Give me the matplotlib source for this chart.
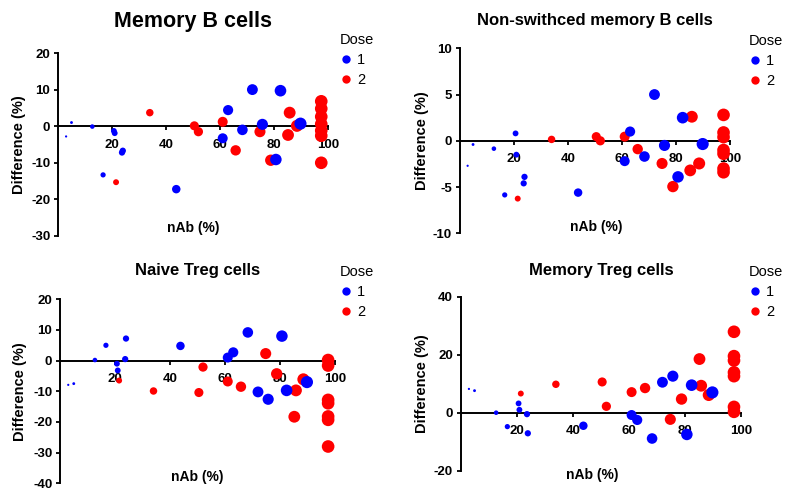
import matplotlib
matplotlib.use("Agg")
import matplotlib.pyplot as plt
from matplotlib.lines import Line2D

plt.rcParams["font.family"] = ["Liberation Sans", "DejaVu Sans"]

BLUE = "#0000ff"
RED = "#ff0000"

# nAb (%) per subject (same subjects in every panel)
nab_dose1 = [3, 5, 12.7, 16.7, 20.7, 21, 23.7, 24, 43.8, 61, 63, 68.3, 72, 75.7, 80.7, 82.4, 89.8]
nab_dose2 = [21.5, 34, 50.5, 52, 61, 65.8, 74.8, 78.8, 85.2, 85.8, 88.5,
             97.5, 97.5, 97.5, 97.5, 97.5, 97.5, 97.5]

# Difference (%) per panel
memB_d1 = [-2.8, 1.0, -0.1, -13.3, -1.3, -1.9, -7.2, -6.7, -17.2, -3.3, 4.4, -1.0, 10.0, 0.5, -9.1, 9.7, 0.7]
memB_d2 = [-15.3, 3.7, 0.1, -1.5, 1.2, -6.6, -1.5, -9.3, -2.4, 3.7, 0.1,
           6.8, 4.8, 2.6, 0.6, -1.2, -2.6, -10.0]

nsw_d1 = [-2.7, -0.4, -0.85, -5.85, 0.8, -1.5, -4.6, -3.9, -5.6, -2.2, 1.0, -1.7, 5.0, -0.5, -3.9, 2.5, -0.35]
nsw_d2 = [-6.25, 0.15, 0.45, 0.0, 0.45, -0.9, -2.45, -4.95, -3.2, 2.6, -2.45,
          2.8, 0.9, 0.4, -1.0, -1.4, -3.0, -3.4]

ntreg_d1 = [-7.9, -7.5, 0.2, 5.0, -1.0, -3.2, 0.5, 7.2, 4.8, 1.0, 2.7, 9.2, -10.2, -12.6, 8.0, -9.7, -7.0]
ntreg_d2 = [-6.5, -9.9, -10.4, -2.1, -6.8, -8.5, 2.3, -4.3, -18.3, -9.7, -6.1,
            0.2, -1.6, -12.8, -13.9, -18.2, -19.3, -28.0]

mtreg_d1 = [8.2, 7.6, 0.0, -4.8, 3.2, 1.0, -0.5, -7.1, -4.5, -0.8, -2.5, -8.9, 10.5, 12.6, -7.5, 9.5, 7.0]
mtreg_d2 = [6.6, 9.8, 10.6, 2.2, 7.1, 8.5, -2.3, 4.7, 18.5, 9.3, 6.1,
            27.9, 19.5, 18.0, 13.9, 12.6, 2.0, 0.3]

titles = ["Memory B cells", "Non-swithced memory B cells", "Naive Treg cells", "Memory Treg cells"]
ylims = [(-30, 20), (-10, 10), (-40, 20), (-20, 40)]
ysteps = [10, 5, 10, 20]

W, H = 794, 495
fig = plt.figure(figsize=(W / 100, H / 100), dpi=100)

# layout in pixels: axes box (l, t, r, b), title centre, xlabel centre, ylabel x, legend top-left
layout = [
    dict(box=(58, 53, 328, 236), tsize=15.5, title_xy=(193, 22), xlab_xy=(193, 228), ylab_x=19, leg=(340, 33)),
    dict(box=(459.5, 48.3, 730.3, 233.3), tsize=12, title_xy=(595, 20), xlab_xy=(596, 227), ylab_x=422, leg=(749, 34)),
    dict(box=(60, 299.3, 335, 483.3), tsize=12, title_xy=(198, 271), xlab_xy=(197, 477), ylab_x=20, leg=(340, 265)),
    dict(box=(460.5, 296.7, 741, 470.7), tsize=12, title_xy=(601, 270), xlab_xy=(592, 475), ylab_x=422, leg=(749, 265)),
]
data = [(memB_d1, memB_d2), (nsw_d1, nsw_d2), (ntreg_d1, ntreg_d2), (mtreg_d1, mtreg_d2)]


def size(x):
    return [0.85 * v for v in x]


for i, (lay, (d1, d2)) in enumerate(zip(layout, data)):
    l, t, r, b = lay["box"]
    ax = fig.add_axes([l / W, 1 - b / H, (r - l) / W, (b - t) / H])
    ax.scatter(nab_dose2, d2, s=size(nab_dose2), color=RED, linewidths=0, clip_on=False, zorder=3)
    ax.scatter(nab_dose1, d1, s=size(nab_dose1), color=BLUE, linewidths=0, clip_on=False, zorder=4)

    lo, hi = ylims[i]
    ax.set_xlim(0, 100)
    ax.set_ylim(lo, hi)
    for s in ("top", "right"):
        ax.spines[s].set_visible(False)
    ax.spines["bottom"].set_position(("data", 0))
    ax.spines["bottom"].set_bounds(0, 100)
    ax.spines["bottom"].set_linewidth(1.4)
    ax.spines["left"].set_linewidth(1.4)

    xt = [20, 40, 60, 80, 100]
    ax.set_xticks(xt, [str(v) for v in xt], fontsize=9.5, fontweight="bold")
    yt = list(range(lo, hi + 1, ysteps[i]))
    ax.set_yticks(yt, [str(v) for v in yt], fontsize=9.5, fontweight="bold")
    ax.tick_params(axis="x", direction="out", length=3, width=1.3, pad=6)
    ax.tick_params(axis="y", direction="out", length=3, width=1.3, pad=2.5)
    ax.patch.set_alpha(0)

    tx, ty = lay["title_xy"]
    fig.text(tx / W, 1 - ty / H, titles[i], ha="center", va="center",
             fontsize=lay["tsize"], fontweight="bold")
    xx, xy = lay["xlab_xy"]
    fig.text(xx / W, 1 - xy / H, "nAb (%)", ha="center", va="center", fontsize=10, fontweight="bold")
    fig.text(lay["ylab_x"] / W, 1 - (t + b) / 2 / H, "Difference (%)", ha="center", va="center",
             rotation=90, fontsize=10.5, fontweight="bold")

    handles = [Line2D([], [], ls="", marker="o", ms=6, mfc=c, mec="none") for c in (BLUE, RED)]
    lx, ly = lay["leg"]
    ax.legend(handles, ["1", "2"], title="Dose", loc="upper left",
              bbox_to_anchor=(lx / W, 1 - ly / H), bbox_transform=fig.transFigure,
              frameon=False, alignment="left", borderpad=0, borderaxespad=0,
              handlelength=0.8, handletextpad=0.35, labelspacing=0.4,
              fontsize=10.5, title_fontsize=10.5)

fig.savefig("out.png", dpi=100)
